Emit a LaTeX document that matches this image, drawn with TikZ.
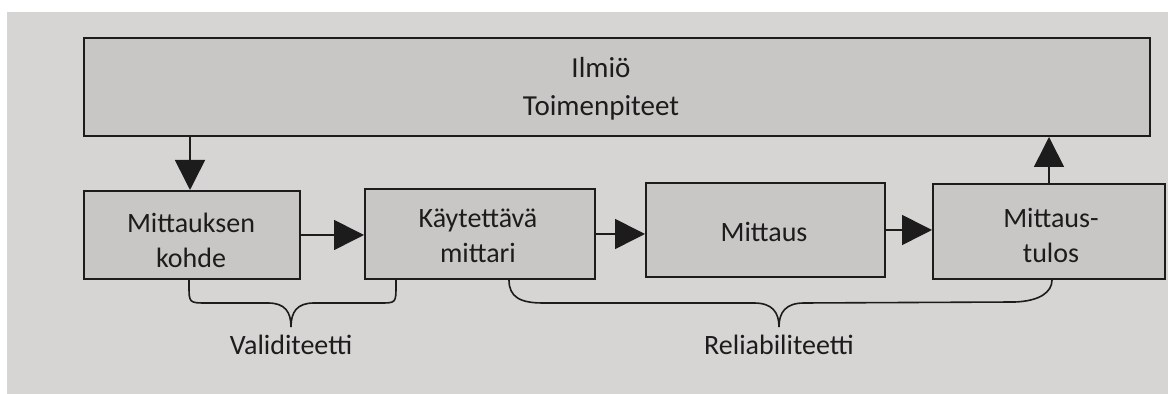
\documentclass[tikz,border=0pt]{standalone}
\usepackage{fontspec}
\setmainfont{Carlito}
\usetikzlibrary{arrows.meta}
\definecolor{pagebg}{HTML}{D6D5D3}
\definecolor{boxfill}{HTML}{C8C7C5}
\definecolor{ink}{HTML}{1C1C1C}
\tikzset{
  box/.style={draw=ink, line width=1pt, fill=boxfill, inner sep=0pt},
  lbl/.style={text=ink, align=center, inner sep=0pt, font=\fontsize{14}{17.5}\selectfont},
  arr/.style={draw=ink, line width=0.8pt, -{Triangle[length=15pt,width=15pt]}},
  brace/.style={draw=ink, line width=0.8pt}
}
\begin{document}
\begin{tikzpicture}[x=0.5pt,y=-0.5pt]
\useasboundingbox (0,0) rectangle (1168,394);
\fill[white] (0,0) rectangle (1168,394);
\fill[pagebg] (7,12) rectangle (1168,394);
% top box
\node[box, minimum width=533pt, minimum height=49pt] (top) at (617,87) {};
\node[lbl, font=\fontsize{14.5}{19}\selectfont] (toptext) at (601,89) {Ilmiö\\Toimenpiteet};
% bottom boxes
\node[box, minimum width=108pt, minimum height=44pt] (b1) at (192,235) {};
\node[lbl] (t1) at (191,240) {Mittauksen\\kohde};
\node[box, minimum width=115pt, minimum height=45pt] (b2) at (480,234) {};
\node[lbl] (t2) at (478,236) {Käytettävä\\mittari};
\node[box, minimum width=119.5pt, minimum height=47pt] (b3) at (765.5,230) {};
\node[lbl] (t3) at (764,232) {Mittaus};
\node[box, minimum width=116pt, minimum height=47.5pt] (b4) at (1049,231.5) {};
\node[lbl] (t4) at (1051,235) {Mittaus-\\tulos};
% arrows
\coordinate (dtop) at (top.south -| 190,0);
\draw[arr] (dtop) -- (dtop |- b1.north);
\draw[arr] (b1.east) -- (b1.east -| b2.west);
\draw[arr] (b2.east) -- (b2.east -| b3.west);
\draw[arr] (b3.east) -- (b3.east -| b4.west);
\coordinate (u4) at (b4.north -| 1049,0);
\draw[arr] (u4) -- (u4 |- top.south);
% brace Validiteetti
\coordinate (v1) at (b1.south -| 189,0);
\coordinate (v2) at (b2.south -| 396,0);
\coordinate (vt) at (291,327);
\draw[brace] (v1) -- (189,285) .. controls (189,303) .. (207,303) -- (268,303)
  .. controls (285,303) and (291,312) .. (vt)
  .. controls (291,312) and (297,303) .. (314,303) -- (380,303)
  .. controls (396,303) .. (396,285) -- (v2);
\node[lbl] (val) at (291,345) {Validiteetti};
% brace Reliabiliteetti
\coordinate (r1) at (b2.south -| 509,0);
\coordinate (r2) at (b4.south -| 1052,0);
\coordinate (rt) at (779,327);
\draw[brace] (r1) .. controls (509,297) and (520,303) .. (543,303) -- (754,303)
  .. controls (772,303) and (779,312) .. (rt)
  .. controls (779,312) and (786,303) .. (804,303) -- (1015,302)
  .. controls (1040,301) and (1052,292) .. (r2);
\node[lbl] (rel) at (779,345) {Reliabiliteetti};
\end{tikzpicture}
\end{document}
